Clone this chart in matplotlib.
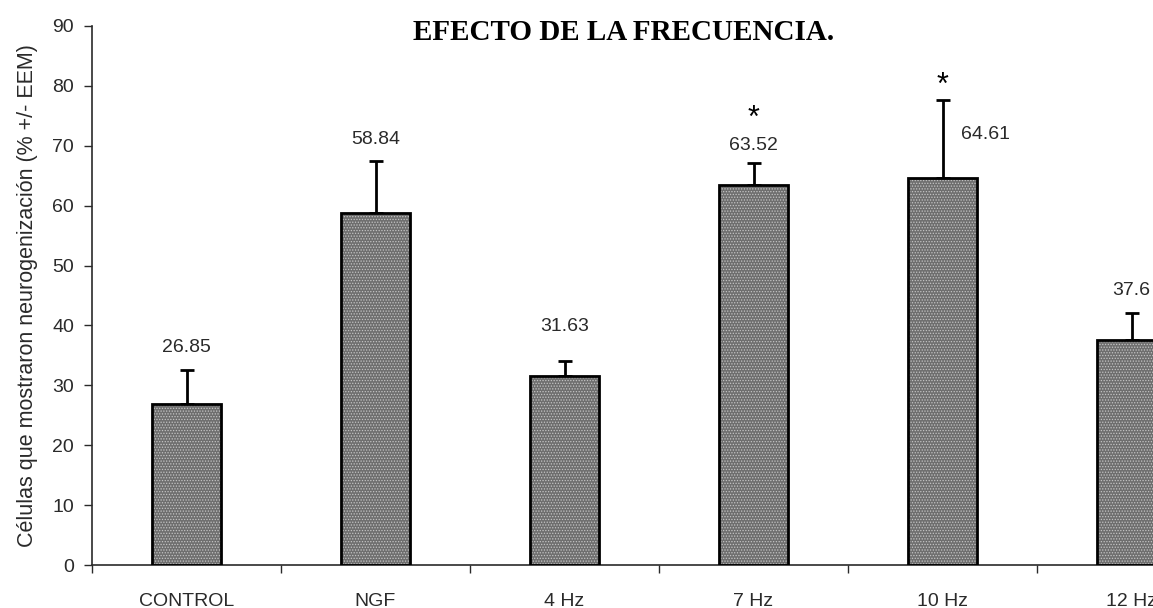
import matplotlib
matplotlib.use("Agg")
import matplotlib.pyplot as plt
import numpy as np

grupos = ["CONTROL", "NGF", "4 Hz", "7 Hz", "10 Hz", "12 Hz"]
medias = [26.85, 58.84, 31.63, 63.52, 64.61, 37.6]
eem = [5.65, 8.7, 2.5, 3.6, 13.0, 4.4]
significativo = [False, False, False, True, True, False]

# desplazamiento de cada etiqueta (px) respecto al extremo de la barra de error
off_etiqueta = [(0, 23), (0, 21), (0, 34), (0, 18), (18, -34), (0, 23)]
off_asterisco = [None, None, None, 44, 14, None]

plt.rcParams["font.family"] = ["Liberation Sans", "DejaVu Sans"]
gris = "#2a2a2a"

fig = plt.figure(figsize=(11.53, 6.08), dpi=100)
ax = fig.add_axes([92 / 1153, 1 - 565 / 608, (1226 - 92) / 1153, (565 - 26) / 608])

x = np.arange(len(grupos))
ancho = 0.37
plt.rcParams["hatch.linewidth"] = 0.6
ax.bar(x, medias, ancho, color="#6e6e6e", edgecolor="#c4c4c4", hatch="......", linewidth=0, zorder=2)
ax.bar(x, medias, ancho, fill=False, edgecolor="black", linewidth=2, zorder=3)
ax.errorbar(x, medias, yerr=[np.zeros(len(x)), eem], fmt="none", ecolor="black",
            elinewidth=2, capsize=4.8, capthick=2, zorder=1)

for i, (m, e) in enumerate(zip(medias, eem)):
    dx, dy = off_etiqueta[i]
    ax.annotate(f"{m:g}", (x[i], m + e), xytext=(dx, dy), textcoords="offset pixels",
                ha="left" if dx else "center", va="center", fontsize=14, color=gris)
    if significativo[i]:
        ax.annotate("*", (x[i], m + e), xytext=(0, off_asterisco[i]), textcoords="offset pixels",
                    ha="center", va="center", fontsize=22, color="black")

ax.set_xlim(-0.5, len(grupos) - 0.5)
ax.set_ylim(0, 90)
ax.set_yticks(range(0, 91, 10))
ax.set_xticks(np.arange(-0.5, len(grupos), 1.0))
ax.set_xticklabels([])
ax.set_xticks(x, minor=True)
ax.set_xticklabels(grupos, minor=True)
ax.tick_params(axis="x", which="minor", length=0, pad=20, labelsize=14, labelcolor=gris)
ax.tick_params(axis="x", which="major", direction="out", length=6, width=1, color=gris)
ax.tick_params(axis="y", direction="out", length=6, width=1, color=gris, pad=7,
               labelsize=14, labelcolor=gris)

for lado in ["top", "right"]:
    ax.spines[lado].set_visible(False)
for lado in ["left", "bottom"]:
    ax.spines[lado].set_color(gris)
    ax.spines[lado].set_linewidth(1.2)

ax.set_ylabel("Células que mostraron neurogenización (% +/- EEM)", fontsize=15.5,
              color=gris, labelpad=10)

fig.text(624 / 1153, 1 - 32 / 608, "EFECTO DE LA FRECUENCIA.", ha="center", va="center",
         fontsize=21, fontweight="bold", family="Liberation Serif")

fig.savefig("out.png", dpi=100)
